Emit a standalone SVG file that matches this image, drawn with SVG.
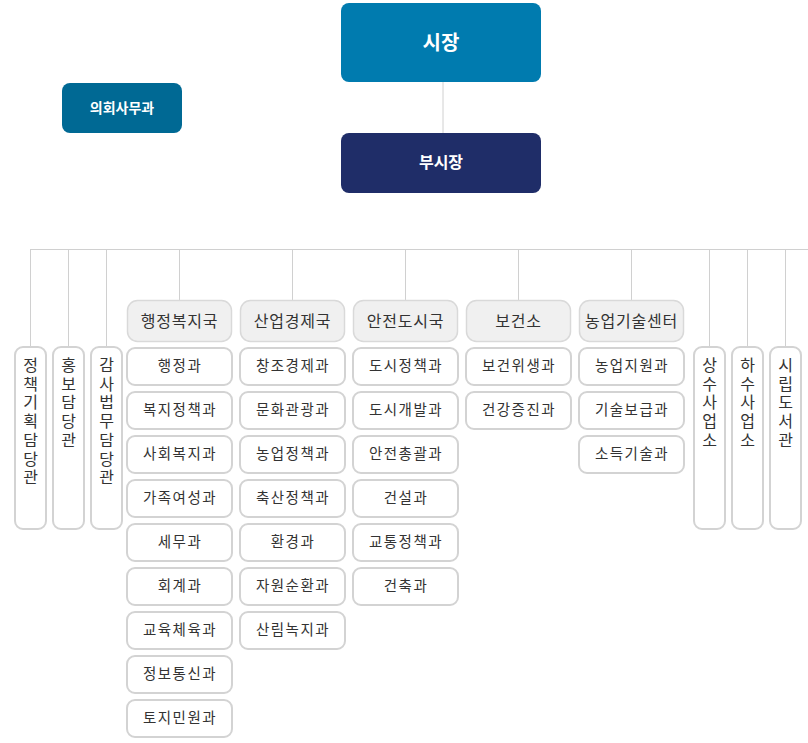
<svg xmlns="http://www.w3.org/2000/svg" width="808" height="743" viewBox="0 0 808 743">
<style>
text{font-family:"Noto Sans CJK KR","Noto Sans",sans-serif;text-anchor:middle;}
.top{fill:#fff;font-weight:bold;}
.hd rect{fill:#f0f0f0;stroke:#d9d9d9;stroke-width:1.5;}
.hd text{fill:#333;font-size:16px;letter-spacing:0.8px;}
.sb rect{fill:#fff;stroke:#d3d3d3;stroke-width:2;}
.sb text{fill:#333;font-size:14.5px;letter-spacing:1.5px;}
.vt rect{fill:#fff;stroke:#d3d3d3;stroke-width:2;}
.vt text{fill:#333;font-size:16px;}
.ln{stroke:#d0d0d0;stroke-width:1;fill:none;}
</style>
<g id="connectors" class="ln">
<line x1="443" y1="82" x2="443" y2="133"/>
<line x1="30.5" y1="249.5" x2="808" y2="249.5"/>
<line x1="30.5" y1="249" x2="30.5" y2="347"/>
<line x1="68.5" y1="249" x2="68.5" y2="347"/>
<line x1="106.5" y1="249" x2="106.5" y2="347"/>
<line x1="179.5" y1="249" x2="179.5" y2="300"/>
<line x1="292.5" y1="249" x2="292.5" y2="300"/>
<line x1="405.5" y1="249" x2="405.5" y2="300"/>
<line x1="518.5" y1="249" x2="518.5" y2="300"/>
<line x1="631.5" y1="249" x2="631.5" y2="300"/>
<line x1="709.5" y1="249" x2="709.5" y2="347"/>
<line x1="747.5" y1="249" x2="747.5" y2="347"/>
<line x1="785.5" y1="249" x2="785.5" y2="347"/>
</g>
<g id="mayor"><rect x="341" y="3" width="200" height="79" rx="8" fill="#007BAF"/><text class="top" x="441" y="50" font-size="20">시장</text></g>
<g id="council"><rect x="62" y="83" width="120" height="50" rx="8" fill="#006994"/><text class="top" x="122" y="113" font-size="14">의회사무과</text></g>
<g id="vicemayor"><rect x="341" y="133" width="200" height="60" rx="8" fill="#1F2D68"/><text class="top" x="441" y="168" font-size="16">부시장</text></g>

<g id="v1" class="vt"><rect x="15" y="347" width="31" height="182" rx="8"/><text x="30.5" y="371"><tspan x="30.5" dy="0">정</tspan><tspan x="30.5" dy="18.7">책</tspan><tspan x="30.5" dy="18.7">기</tspan><tspan x="30.5" dy="18.7">획</tspan><tspan x="30.5" dy="18.7">담</tspan><tspan x="30.5" dy="18.7">당</tspan><tspan x="30.5" dy="18.7">관</tspan></text></g>
<g id="v2" class="vt"><rect x="53" y="347" width="31" height="182" rx="8"/><text x="68.5" y="371"><tspan x="68.5" dy="0">홍</tspan><tspan x="68.5" dy="18.7">보</tspan><tspan x="68.5" dy="18.7">담</tspan><tspan x="68.5" dy="18.7">당</tspan><tspan x="68.5" dy="18.7">관</tspan></text></g>
<g id="v3" class="vt"><rect x="91" y="347" width="31" height="182" rx="8"/><text x="106.5" y="371"><tspan x="106.5" dy="0">감</tspan><tspan x="106.5" dy="18.7">사</tspan><tspan x="106.5" dy="18.7">법</tspan><tspan x="106.5" dy="18.7">무</tspan><tspan x="106.5" dy="18.7">담</tspan><tspan x="106.5" dy="18.7">당</tspan><tspan x="106.5" dy="18.7">관</tspan></text></g>
<g id="v4" class="vt"><rect x="694" y="347" width="31" height="182" rx="8"/><text x="709.5" y="371"><tspan x="709.5" dy="0">상</tspan><tspan x="709.5" dy="18.7">수</tspan><tspan x="709.5" dy="18.7">사</tspan><tspan x="709.5" dy="18.7">업</tspan><tspan x="709.5" dy="18.7">소</tspan></text></g>
<g id="v5" class="vt"><rect x="732" y="347" width="31" height="182" rx="8"/><text x="747.5" y="371"><tspan x="747.5" dy="0">하</tspan><tspan x="747.5" dy="18.7">수</tspan><tspan x="747.5" dy="18.7">사</tspan><tspan x="747.5" dy="18.7">업</tspan><tspan x="747.5" dy="18.7">소</tspan></text></g>
<g id="v6" class="vt"><rect x="770" y="347" width="31" height="182" rx="8"/><text x="785.5" y="371"><tspan x="785.5" dy="0">시</tspan><tspan x="785.5" dy="18.7">립</tspan><tspan x="785.5" dy="18.7">도</tspan><tspan x="785.5" dy="18.7">서</tspan><tspan x="785.5" dy="18.7">관</tspan></text></g>

<g id="h1" class="hd"><rect x="127.5" y="300.5" width="104" height="41" rx="10"/><text x="179.5" y="327">행정복지국</text></g>
<g id="h2" class="hd"><rect x="240.5" y="300.5" width="104" height="41" rx="10"/><text x="292.5" y="327">산업경제국</text></g>
<g id="h3" class="hd"><rect x="353.5" y="300.5" width="104" height="41" rx="10"/><text x="405.5" y="327">안전도시국</text></g>
<g id="h4" class="hd"><rect x="466.5" y="300.5" width="104" height="41" rx="10"/><text x="518.5" y="327">보건소</text></g>
<g id="h5" class="hd"><rect x="579.5" y="300.5" width="104" height="41" rx="10"/><text x="631.5" y="327">농업기술센터</text></g>

<g id="c1" class="sb">
<rect x="127" y="348" width="105" height="37" rx="8"/><text x="180" y="371">행정과</text>
<rect x="127" y="392" width="105" height="37" rx="8"/><text x="180" y="415">복지정책과</text>
<rect x="127" y="436" width="105" height="37" rx="8"/><text x="180" y="459">사회복지과</text>
<rect x="127" y="480" width="105" height="37" rx="8"/><text x="180" y="503">가족여성과</text>
<rect x="127" y="524" width="105" height="37" rx="8"/><text x="180" y="547">세무과</text>
<rect x="127" y="568" width="105" height="37" rx="8"/><text x="180" y="591">회계과</text>
<rect x="127" y="612" width="105" height="37" rx="8"/><text x="180" y="635">교육체육과</text>
<rect x="127" y="656" width="105" height="37" rx="8"/><text x="180" y="679">정보통신과</text>
<rect x="127" y="700" width="105" height="37" rx="8"/><text x="180" y="723">토지민원과</text>
</g>
<g id="c2" class="sb">
<rect x="240" y="348" width="105" height="37" rx="8"/><text x="293" y="371">창조경제과</text>
<rect x="240" y="392" width="105" height="37" rx="8"/><text x="293" y="415">문화관광과</text>
<rect x="240" y="436" width="105" height="37" rx="8"/><text x="293" y="459">농업정책과</text>
<rect x="240" y="480" width="105" height="37" rx="8"/><text x="293" y="503">축산정책과</text>
<rect x="240" y="524" width="105" height="37" rx="8"/><text x="293" y="547">환경과</text>
<rect x="240" y="568" width="105" height="37" rx="8"/><text x="293" y="591">자원순환과</text>
<rect x="240" y="612" width="105" height="37" rx="8"/><text x="293" y="635">산림녹지과</text>
</g>
<g id="c3" class="sb">
<rect x="353" y="348" width="105" height="37" rx="8"/><text x="406" y="371">도시정책과</text>
<rect x="353" y="392" width="105" height="37" rx="8"/><text x="406" y="415">도시개발과</text>
<rect x="353" y="436" width="105" height="37" rx="8"/><text x="406" y="459">안전총괄과</text>
<rect x="353" y="480" width="105" height="37" rx="8"/><text x="406" y="503">건설과</text>
<rect x="353" y="524" width="105" height="37" rx="8"/><text x="406" y="547">교통정책과</text>
<rect x="353" y="568" width="105" height="37" rx="8"/><text x="406" y="591">건축과</text>
</g>
<g id="c4" class="sb">
<rect x="466" y="348" width="105" height="37" rx="8"/><text x="519" y="371">보건위생과</text>
<rect x="466" y="392" width="105" height="37" rx="8"/><text x="519" y="415">건강증진과</text>
</g>
<g id="c5" class="sb">
<rect x="579" y="348" width="105" height="37" rx="8"/><text x="632" y="371">농업지원과</text>
<rect x="579" y="392" width="105" height="37" rx="8"/><text x="632" y="415">기술보급과</text>
<rect x="579" y="436" width="105" height="37" rx="8"/><text x="632" y="459">소득기술과</text>
</g>
</svg>
